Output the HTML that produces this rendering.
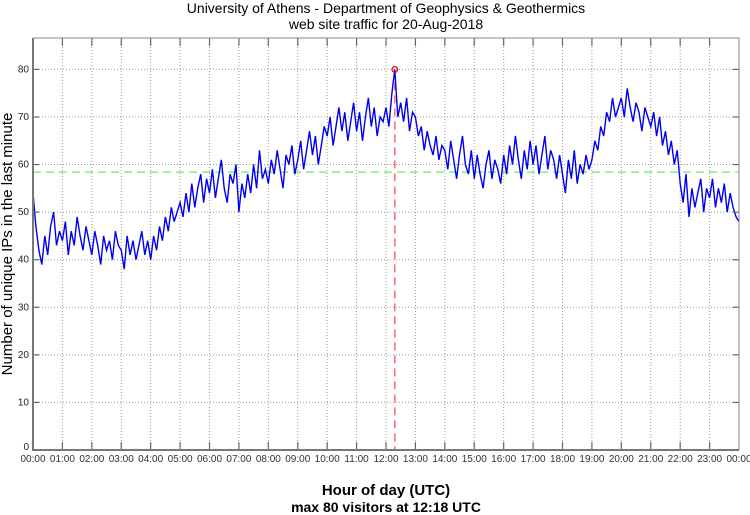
<!DOCTYPE html>
<html><head><meta charset="utf-8"><style>
body{margin:0;background:#fff;}
svg{display:block;font-family:"Liberation Sans",sans-serif;}
</style></head><body>
<svg id="chart" width="750" height="515" viewBox="0 0 750 515" xmlns="http://www.w3.org/2000/svg">
<text x="386" y="13" font-size="14" text-anchor="middle">University of Athens - Department of Geophysics &amp; Geothermics</text>
<text x="386" y="29" font-size="14" text-anchor="middle">web site traffic for 20-Aug-2018</text>
<text transform="translate(12,244) rotate(-90)" font-size="15" text-anchor="middle">Number of unique IPs in the last minute</text>
<text x="386" y="495" font-size="15" font-weight="bold" text-anchor="middle">Hour of day (UTC)</text>
<text id="maxtxt" x="386" y="512" font-size="14" font-weight="bold" text-anchor="middle">max 80 visitors at 12:18 UTC</text>
<g id="grid"></g><g id="marks"></g><g id="axes"></g>
</svg>
<script>
const hourLabels=["00:00","01:00","02:00","03:00","04:00","05:00","06:00","07:00","08:00","09:00","10:00","11:00","12:00","13:00","14:00","15:00","16:00","17:00","18:00","19:00","20:00","21:00","22:00","23:00","00:00"];
const yTicks=[0,10,20,30,40,50,60,70,80];
const visitors=[
54,47,42,39,45,41,47,50,43,46,
44,48,41,46,43,49,45,42,47,44,
41,46,43,39,45,42,44,40,46,43,
42,38,45,41,44,40,43,46,41,44,
40,45,42,47,44,49,46,51,48,50,
52,49,54,50,56,51,55,58,52,57,
54,59,53,57,61,55,52,58,56,60,
50,56,53,58,54,60,55,63,57,59,
56,61,58,63,59,55,62,60,64,58,
61,65,59,63,67,62,66,60,64,68,
66,70,64,68,72,67,71,65,69,73,
67,71,65,70,74,68,72,66,70,69,
72,68,75,80,70,73,69,74,67,71,
70,66,68,63,67,64,62,66,61,64,
63,59,65,61,57,62,66,60,58,63,
57,62,58,55,60,63,57,61,59,56,
62,58,64,60,66,61,57,63,59,65,
60,64,58,62,66,59,63,61,57,62,
58,54,61,57,63,56,60,58,62,59,
61,65,63,68,66,71,69,74,70,72,
74,70,76,72,69,73,71,67,72,70,
68,71,66,70,64,67,62,65,60,63,
56,52,58,49,55,51,54,57,50,55,
53,57,51,55,52,56,50,54,51,49,48];
const meanValue=[58.4];
const minutesPerPoint=[6];

const L=33,R=739,T=38,B=450,YMAX=86.6;
const xs=m=>L+(R-L)*m/1440;
const ys=v=>B-(B-T)*v/YMAX;
const NS="http://www.w3.org/2000/svg";
function mk(p,tag,at){const e=document.createElementNS(NS,tag);for(const k in at)e.setAttribute(k,at[k]);p.appendChild(e);return e;}
const grid=document.getElementById('grid'),marks=document.getElementById('marks'),axes=document.getElementById('axes');
mk(grid,'rect',{x:L,y:T,width:R-L,height:B-T,fill:'#fff'});
hourLabels.forEach((h,i)=>{const x=xs(i*60);
 if(i>0&&i<24){const g=mk(grid,'line',{x1:x,y1:T,x2:x,y2:B,stroke:'#999','stroke-dasharray':'1,2','stroke-width':1});
 
 const t=mk(axes,'line',{x1:x,y1:B,x2:x,y2:B-8,stroke:'#666','stroke-width':1.2});
 
 const t2=mk(axes,'line',{x1:x,y1:T,x2:x,y2:T+8,stroke:'#666','stroke-width':1.2});
 }
 const tx=mk(axes,'text',{x:x,y:B+12,'font-size':10,'text-anchor':'middle',fill:'#333'});tx.textContent=h;
 
});
yTicks.forEach(v=>{const y=ys(v);
 if(v>0){const g=mk(grid,'line',{x1:L,y1:y,x2:R,y2:y,stroke:'#999','stroke-dasharray':'1,2','stroke-width':1});
 
 const t=mk(axes,'line',{x1:L,y1:y,x2:L+6,y2:y,stroke:'#666','stroke-width':1.2});
 
 const t2=mk(axes,'line',{x1:R,y1:y,x2:R-6,y2:y,stroke:'#666','stroke-width':1.2});
 }
 const tx=mk(axes,'text',{x:L-4,y:y+(v===0?0:3),'font-size':10,'text-anchor':'end',fill:'#222'});tx.textContent=v;
 
});
const frame=mk(axes,'path',{d:`M${L},${T}H${R}V${B}`,fill:'none',stroke:'#888','stroke-width':1});

const ax=mk(axes,'path',{d:`M${L},${T}V${B}H${R}`,fill:'none',stroke:'#777','stroke-width':2});

const mean=mk(marks,'line',{x1:L,y1:ys(meanValue[0]),x2:R,y2:ys(meanValue[0]),stroke:'#66ee66','stroke-width':1.3,'stroke-dasharray':'8,5'});

let mi=0;visitors.forEach((v,i)=>{if(v>visitors[mi])mi=i;});
const mm=mi*minutesPerPoint[0];
const vl=mk(marks,'line',{x1:xs(mm),y1:ys(visitors[mi]),x2:xs(mm),y2:B,stroke:'#ff5555','stroke-width':1.3,'stroke-dasharray':'8,5'});

const pts=visitors.map((v,i)=>xs(i*minutesPerPoint[0]).toFixed(1)+','+ys(v).toFixed(1)).join(' ');
const pl=mk(marks,'polyline',{points:pts,fill:'none',stroke:'#0000ee','stroke-width':1.4});

const c=mk(marks,'circle',{cx:xs(mm),cy:ys(visitors[mi]),r:2.8,fill:'none',stroke:'#ee0000','stroke-width':1.3});

const hh=String(Math.floor(mm/60)).padStart(2,'0'),mn=String(mm%60).padStart(2,'0');
document.getElementById('maxtxt').textContent=`max ${visitors[mi]} visitors at ${hh}:${mn} UTC`;
</script>
</body></html>
